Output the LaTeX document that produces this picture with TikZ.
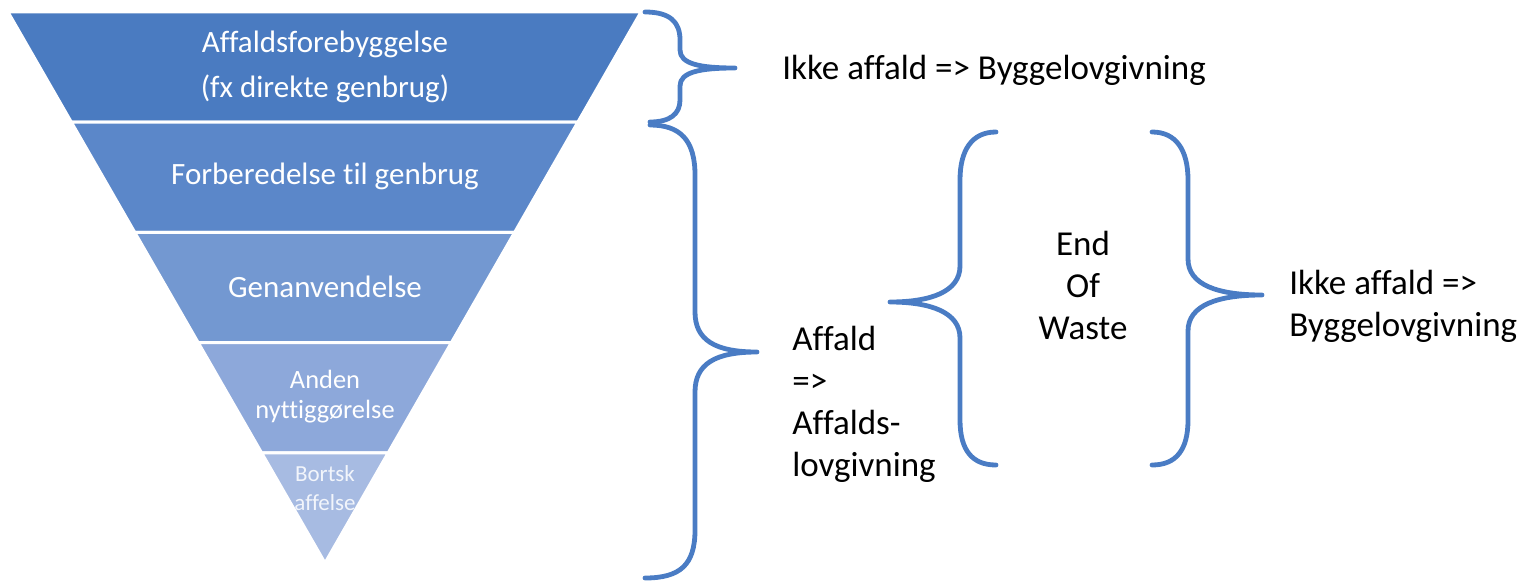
\documentclass[tikz,border=0pt]{standalone}
\usepackage{fontspec}
\setmainfont{Carlito}[Ligatures=NoCommon]
\usetikzlibrary{calc, positioning}
\definecolor{braceblue}{HTML}{4A7CC4}
\definecolor{bandA}{HTML}{4A7BC1}
\definecolor{bandB}{HTML}{5B87C9}
\definecolor{bandC}{HTML}{7398D1}
\definecolor{bandD}{HTML}{8DA8DA}
\definecolor{bandE}{HTML}{A7BBE2}
\tikzset{
    bracket/.style={draw=braceblue, line width=2.4pt, line cap=round, line join=round},
    band/.style={fill=#1, draw=white, line width=1.5pt, line join=miter},
    bandtext/.style n args={2}{text=white, align=center, inner sep=0pt,
        font=\fontsize{#1}{#2}\selectfont},
    sidetext/.style={align=left, inner sep=0pt, font=\fontsize{17.5}{21}\selectfont},
}
\begin{document}
\begin{tikzpicture}[x=0.5pt, y=-0.5pt]
    \useasboundingbox (0,0) rectangle (1529,583);
    % funnel corners
    \coordinate (tl) at (8,12);
    \coordinate (tr) at (641,12);
    \coordinate (ap) at (325,563);
    \foreach \c [count=\i] in {bandA,bandB,bandC,bandD,bandE}{
        \pgfmathsetmacro{\a}{(\i-1)/5}
        \pgfmathsetmacro{\b}{\i/5}
        \draw[band=\c] ($(tl)!\a!(ap)$) -- ($(tr)!\a!(ap)$) -- ($(tr)!\b!(ap)$) -- ($(tl)!\b!(ap)$) -- cycle;
    }
    \node[bandtext={15.5}{22.5}] (prevent) at (325,67) {Affaldsforebyggelse\\(fx direkte genbrug)};
    \node[bandtext={15.5}{18}] (prepare) at (325,176) {Forberedelse til genbrug};
    \node[bandtext={15.5}{18}] (recycle) at (325,287) {Genanvendelse};
    \node[bandtext={13.2}{15}] (recover) at (325,397) {Anden\\nyttiggørelse};
    \node[bandtext={11.5}{14.5}, text=white!85!bandE] (dispose) at (325,488) {Bortsk\\affelse};
    % braces
    \draw[bracket] (645,12) .. controls (670,12) and (680,22) .. (680,40) -- (680,50)
        .. controls (680,64) and (700,68) .. (735,68)
        .. controls (700,68) and (680,72) .. (680,86) -- (680,100)
        .. controls (680,114) and (670,122) .. (650,122);
    \draw[bracket] (650,125) .. controls (680,125) and (695,140) .. (695,175) -- (695,312)
        .. controls (695,340) and (715,352) .. (757,352)
        .. controls (715,352) and (695,364) .. (695,392) -- (695,530)
        .. controls (695,565) and (680,578) .. (645,578);
    \draw[bracket] (996,132) .. controls (972,132) and (960,150) .. (960,180) -- (960,266)
        .. controls (960,292) and (930,302) .. (890,302)
        .. controls (930,302) and (960,312) .. (960,338) -- (960,420)
        .. controls (960,450) and (972,465) .. (996,465);
    \draw[bracket] (1152,132) .. controls (1176,132) and (1188,150) .. (1188,180) -- (1188,259)
        .. controls (1188,285) and (1218,295) .. (1262,295)
        .. controls (1218,295) and (1188,305) .. (1188,331) -- (1188,420)
        .. controls (1188,450) and (1176,465) .. (1152,465);
    % labels
    \node[sidetext, anchor=west] (nowaste) at (782,70) {Ikke affald => Byggelovgivning};
    \node[sidetext, anchor=west] (waste) at (792,404) {Affald\\=>\\Affalds-\\lovgivning};
    \node[sidetext, align=center] (eow) at (1083,285) {End\\Of\\Waste};
    \node[sidetext, anchor=west] (build) at (1289,306) {Ikke affald =>\\Byggelovgivning};
\end{tikzpicture}
\end{document}
